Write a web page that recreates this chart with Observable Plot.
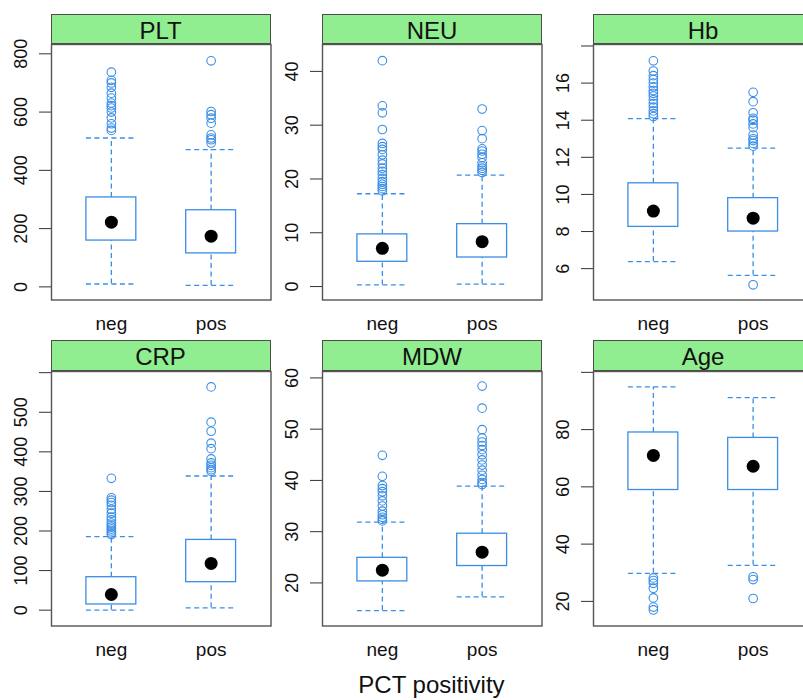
<!DOCTYPE html>
<html><head><meta charset="utf-8">
<script src="https://cdn.jsdelivr.net/npm/d3@7"></script>
<script src="https://cdn.jsdelivr.net/npm/@observablehq/plot@0.6"></script>
<style>
body{margin:0;background:#fff;}
#chart{position:relative;width:803px;height:700px;overflow:hidden;background:#fff;font-family:"Liberation Sans",Arial,sans-serif;}
.strip{position:absolute;box-sizing:border-box;background:#90ee90;border:1px solid #4d4d4d;text-align:center;font-size:24px;line-height:31px;color:#111;white-space:nowrap;}
.panel{position:absolute;}
.panel svg{overflow:visible;max-width:none !important;display:block;}
#xlab{position:absolute;left:0;width:863px;text-align:center;top:673px;font-size:24px;line-height:24px;color:#111;}
</style></head><body><div id="chart"></div>
<script>
// ---- data ----
const panels = ["PLT", "NEU", "Hb", "CRP", "MDW", "Age"];
const groups = ["neg", "pos"];
// [neg, pos] per panel
const whiskerLow  = [[10, 5], [0.3, 0.45], [6.38, 5.64], [0, 5.8], [14.6, 17.3], [29.8, 32.6]];
const quart1      = [[159, 115], [4.6, 5.4], [8.25, 8.0], [14.4, 70.7], [20.3, 23.3], [58.9, 58.9]];
const medians     = [[222, 174], [7.1, 8.35], [9.1, 8.72], [39.6, 118], [22.5, 26.0], [71.0, 67.2]];
const quart3      = [[307, 263], [9.7, 11.6], [10.6, 9.8], [83.3, 177.5], [24.9, 29.6], [79.0, 77.1]];
const whiskerHigh = [[511, 471], [17.25, 20.7], [14.08, 12.5], [186, 339], [31.85, 38.87], [94.9, 91.2]];
const outliersNeg = [
  [537, 545, 560, 580, 600, 614, 622, 631, 648, 665, 685, 700, 709, 737],
  [17.8, 18.2, 18.6, 19.0, 19.5, 20.1, 20.8, 21.4, 22.0, 22.8, 23.5, 24.5, 25.5, 26.0, 26.6, 29.2, 32.3, 33.6, 42.0],
  [14.2, 14.35, 14.5, 14.7, 14.9, 15.1, 15.3, 15.45, 15.6, 15.8, 16.0, 16.2, 16.4, 16.65, 17.2],
  [191, 195, 200, 205, 210, 215, 220, 228, 235, 245, 255, 265, 272, 278, 284, 333],
  [32.1, 32.4, 32.8, 33.3, 34.0, 35.0, 36.0, 37.0, 37.8, 38.4, 39.0, 40.8, 44.9],
  [28.2, 27.3, 26.3, 24.6, 21.2, 18.0, 17.0]
];
const outliersPos = [
  [494, 505, 511, 522, 562, 579, 591, 602, 776],
  [21.2, 21.6, 22.0, 22.4, 23.0, 24.0, 24.6, 25.2, 25.6, 27.5, 29.0, 33.0],
  [5.13, 12.6, 12.75, 12.9, 13.0, 13.2, 13.6, 13.8, 14.0, 14.1, 14.4, 15.0, 15.5],
  [351, 355, 360, 366, 372, 382, 408, 422, 452, 475, 564],
  [39.2, 39.6, 40.2, 41.0, 42.0, 43.0, 44.0, 45.0, 46.0, 46.8, 47.5, 48.3, 49.9, 54.1, 58.4],
  [28.6, 27.6, 21.0]
];
const yTicks = [
  [0, 200, 400, 600, 800],
  [0, 10, 20, 30, 40],
  [6, 8, 10, 12, 14, 16, 18],
  [0, 100, 200, 300, 400, 500, 600],
  [20, 30, 40, 50, 60],
  [20, 40, 60, 80, 100]
];
const yTickLabels = [
  ["0", "200", "400", "600", "800"],
  ["0", "10", "20", "30", "40"],
  ["6", "8", "10", "12", "14", "16", ""],
  ["0", "100", "200", "300", "400", "500", ""],
  ["20", "30", "40", "50", "60"],
  ["20", "40", "60", "80", ""]
];
const yLimits = [[-45, 832], [-2.5, 45], [4.31, 18.08], [-40, 603], [11.6, 61.25], [11.4, 100.3]];
const xLabel = "PCT positivity";

// ---- layout ----
const blue = "#3a8ee6";
const cols = [50.5, 322, 593];
const rows = [{strip: 14, top: 43.5, bottom: 299}, {strip: 339.5, top: 370.5, bottom: 625}];
const frameW = 219.5;
const mL = 60, mR = 2, mT = 1, mB = 45;
const chart = document.getElementById("chart");

panels.forEach((name, i) => {
  const cx = cols[i % 3], r = rows[Math.floor(i / 3)];
  const fh = r.bottom - r.top;
  const stats = groups.map((g, j) => ({
    g, x: j + 1,
    lo: whiskerLow[i][j], q1: quart1[i][j], med: medians[i][j], q3: quart3[i][j], hi: whiskerHigh[i][j]
  }));
  const outs = [
    ...outliersNeg[i].map(v => ({x: 1, y: v})),
    ...outliersPos[i].map(v => ({x: 2, y: v}))
  ];
  const labelMap = new Map(yTicks[i].map((t, k) => [t, yTickLabels[i][k]]));
  const dash = {stroke: blue, strokeWidth: 1.3, strokeDasharray: "5,3.5"};
  const W = frameW + mL + mR, H = fh + mT + mB;
  const svg = Plot.plot({
    width: W,
    height: H,
    marginLeft: mL, marginRight: mR, marginTop: mT, marginBottom: mB,
    style: {fontFamily: '"Liberation Sans", Arial, sans-serif', color: "#111", background: "transparent", maxWidth: "none"},
    x: {domain: [0.4, 2.6]},
    y: {domain: yLimits[i]},
    marks: [
      Plot.axisY({ticks: yTicks[i], tickFormat: d => labelMap.get(d), tickSize: 12, tickPadding: 13,
                  tickRotate: -90, fontSize: 18, stroke: "#333", label: null}),
      Plot.axisX({ticks: [1, 2], tickFormat: d => groups[d - 1], tickSize: 0, tickPadding: 16,
                  fontSize: 19, label: null}),
      Plot.ruleX(stats, {x: "x", y1: "lo", y2: "q1", ...dash}),
      Plot.ruleX(stats, {x: "x", y1: "q3", y2: "hi", ...dash}),
      Plot.ruleY(stats, {y: "lo", x1: d => d.x - 0.25, x2: d => d.x + 0.25, ...dash}),
      Plot.ruleY(stats, {y: "hi", x1: d => d.x - 0.25, x2: d => d.x + 0.25, ...dash}),
      Plot.rect(stats, {x1: d => d.x - 0.25, x2: d => d.x + 0.25, y1: "q1", y2: "q3",
                        fill: "white", stroke: blue, strokeWidth: 1.3}),
      Plot.dot(outs, {x: "x", y: "y", r: 4.3, stroke: blue, strokeWidth: 1.1, fill: "none"}),
      Plot.dot(stats, {x: "x", y: "med", r: 6.5, fill: "black", stroke: "none"}),
      Plot.frame({stroke: "#555", strokeWidth: 1.4})
    ]
  });
  svg.style.maxWidth = "none";
  const wrap = document.createElement("div");
  wrap.className = "panel";
  wrap.style.left = (cx - mL) + "px";
  wrap.style.top = (r.top - mT) + "px";
  wrap.style.width = W + "px";
  wrap.style.height = H + "px";
  wrap.appendChild(svg);
  chart.appendChild(wrap);

  const strip = document.createElement("div");
  strip.className = "strip";
  strip.style.left = cx + "px";
  strip.style.top = r.strip + "px";
  strip.style.width = (frameW + 0.5) + "px";
  strip.style.height = (r.top - r.strip + 0.5) + "px";
  strip.textContent = name;
  chart.appendChild(strip);
});

const xl = document.createElement("div");
xl.id = "xlab";
xl.textContent = xLabel;
chart.appendChild(xl);
</script>
</body></html>
